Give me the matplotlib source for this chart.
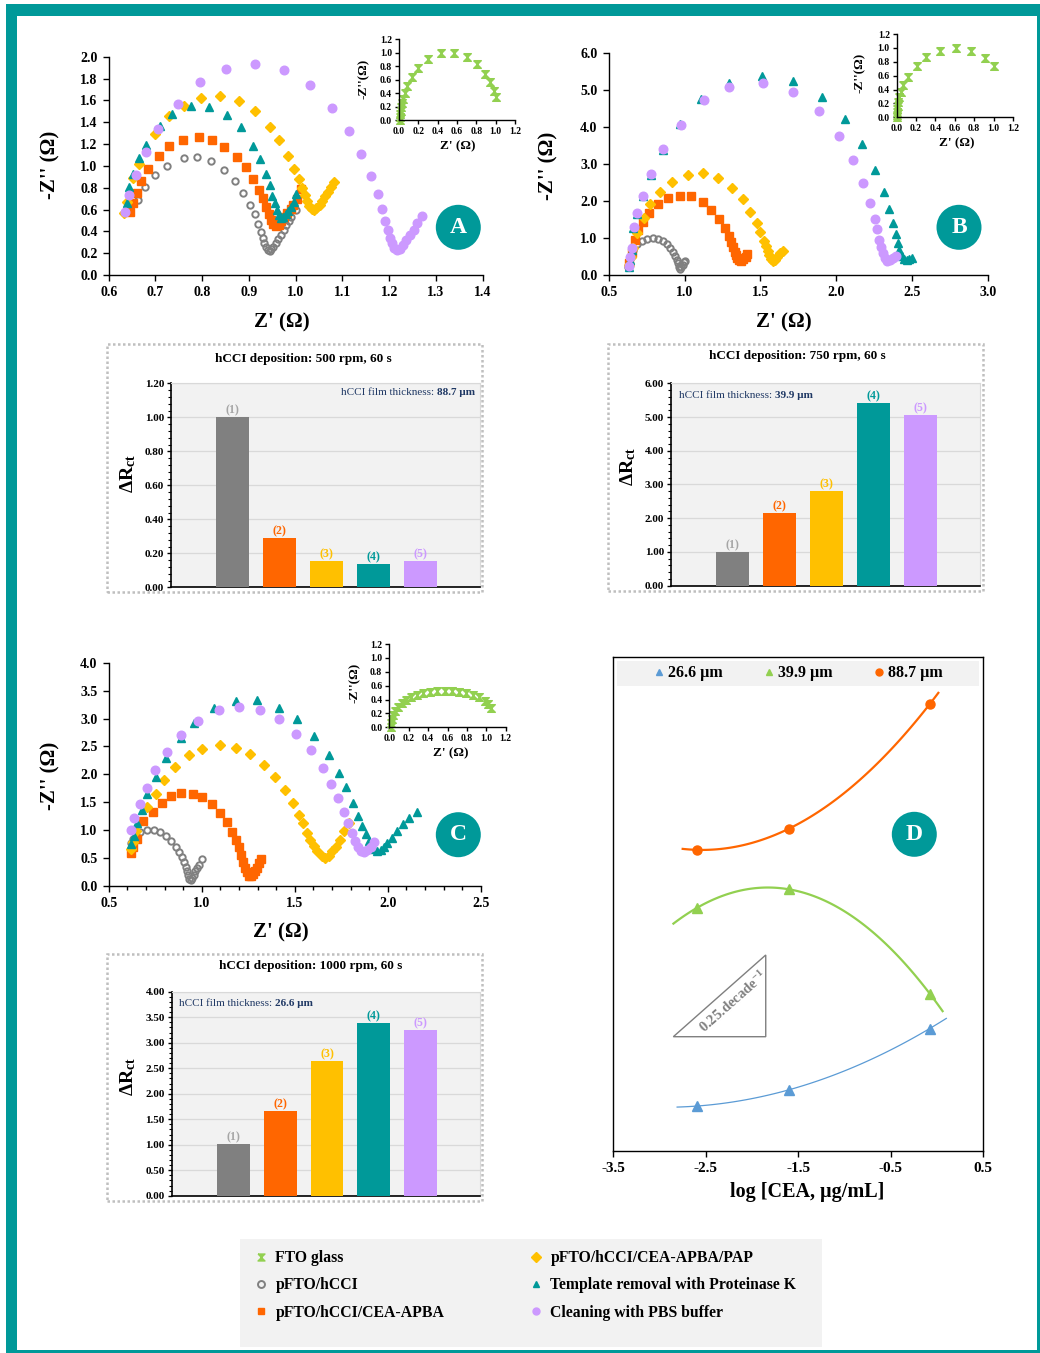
import numpy as np
import matplotlib
matplotlib.use("Agg")
import matplotlib.pyplot as plt
from matplotlib.patches import Rectangle, Ellipse, Polygon
from matplotlib.lines import Line2D
from matplotlib.ticker import MultipleLocator, FormatStrFormatter

plt.rcParams['font.family'] = ['Liberation Serif', 'DejaVu Serif']
plt.rcParams['font.weight'] = 'bold'
plt.rcParams['axes.labelweight'] = 'bold'
plt.rcParams['axes.unicode_minus'] = False
plt.rcParams['mathtext.fontset'] = 'custom'
plt.rcParams['mathtext.rm'] = 'Liberation Serif'
plt.rcParams['mathtext.bf'] = 'Liberation Serif:bold'
plt.rcParams['mathtext.it'] = 'Liberation Serif:italic'

W, H = 1040, 1353
TEAL = "#009999"
GRAY = "#808080"
ORANGE = "#FF6600"
GOLD = "#FFC000"
PURPLE = "#CC99FF"
GREEN = "#92D050"
BLUE = "#5B9BD5"
NAVY = "#1F3864"

# ---------------- Nyquist data, 500 rpm (A) ----------------
a_fto_x = [0.010, 0.010, 0.014, 0.017, 0.021, 0.028, 0.038, 0.062, 0.086, 0.131, 0.197,
           0.303, 0.431, 0.569, 0.700, 0.807, 0.890, 0.941, 0.979, 1.000]
a_fto_y = [0.000, 0.040, 0.084, 0.134, 0.188, 0.248, 0.307, 0.407, 0.511, 0.635, 0.768,
           0.907, 0.992, 1.001, 0.942, 0.828, 0.689, 0.565, 0.431, 0.337]
a_hcci_x = [0.646, 0.662, 0.678, 0.700, 0.724, 0.760, 0.788, 0.818, 0.847, 0.871, 0.888,
            0.903, 0.912, 0.919, 0.925, 0.929, 0.933, 0.937, 0.940, 0.944, 0.948, 0.952,
            0.957, 0.962, 0.968, 0.974, 0.979, 0.985, 0.991, 1.000]
a_hcci_y = [0.580, 0.687, 0.809, 0.919, 1.002, 1.069, 1.078, 1.041, 0.962, 0.858, 0.754,
            0.638, 0.559, 0.467, 0.394, 0.339, 0.290, 0.253, 0.229, 0.220, 0.235, 0.260,
            0.290, 0.327, 0.369, 0.412, 0.455, 0.498, 0.534, 0.595]
a_apba_x = [0.646, 0.651, 0.660, 0.669, 0.683, 0.707, 0.730, 0.758, 0.793, 0.820, 0.847,
            0.874, 0.893, 0.909, 0.922, 0.929, 0.936, 0.942, 0.947, 0.952, 0.958, 0.964,
            0.969, 0.976, 0.982, 0.989, 0.995, 1.002, 1.011]
a_apba_y = [0.577, 0.660, 0.754, 0.861, 0.974, 1.093, 1.182, 1.237, 1.261, 1.237, 1.176,
            1.081, 0.989, 0.882, 0.776, 0.702, 0.626, 0.556, 0.501, 0.464, 0.449, 0.461,
            0.492, 0.528, 0.565, 0.602, 0.644, 0.693, 0.791]
a_pap_x = [0.633, 0.640, 0.653, 0.664, 0.698, 0.729, 0.760, 0.797, 0.839, 0.879, 0.913,
           0.944, 0.964, 0.983, 0.996, 1.006, 1.013, 1.019, 1.024, 1.029, 1.034, 1.039,
           1.044, 1.051, 1.056, 1.063, 1.069, 1.076, 1.081]
a_pap_y = [0.571, 0.672, 0.885, 1.014, 1.289, 1.456, 1.548, 1.624, 1.643, 1.591, 1.499,
           1.353, 1.237, 1.090, 0.971, 0.876, 0.794, 0.733, 0.678, 0.635, 0.605, 0.595,
           0.611, 0.641, 0.678, 0.721, 0.763, 0.809, 0.849]
a_prot_x = [0.635, 0.639, 0.644, 0.651, 0.664, 0.680, 0.709, 0.736, 0.775, 0.815, 0.853,
            0.883, 0.909, 0.923, 0.936, 0.944, 0.950, 0.955, 0.959, 0.964, 0.968, 0.973,
            0.979, 0.984, 0.990, 0.996, 1.001]
a_prot_y = [0.595, 0.656, 0.809, 0.925, 1.069, 1.191, 1.365, 1.475, 1.545, 1.539, 1.469,
            1.353, 1.185, 1.063, 0.922, 0.821, 0.727, 0.656, 0.595, 0.550, 0.525, 0.528,
            0.556, 0.589, 0.626, 0.672, 0.739]
a_pbs_x = [0.635, 0.643, 0.658, 0.680, 0.706, 0.748, 0.796, 0.850, 0.912, 0.974, 1.030,
           1.078, 1.114, 1.140, 1.161, 1.175, 1.185, 1.192, 1.198, 1.202, 1.206, 1.211,
           1.217, 1.223, 1.230, 1.237, 1.245, 1.253, 1.260, 1.270]
a_pbs_y = [0.580, 0.733, 0.913, 1.124, 1.340, 1.569, 1.771, 1.887, 1.933, 1.875, 1.740,
           1.533, 1.319, 1.108, 0.904, 0.739, 0.602, 0.495, 0.409, 0.339, 0.290, 0.247,
           0.229, 0.241, 0.278, 0.321, 0.366, 0.412, 0.473, 0.540]

# ---------------- Nyquist data, 750 rpm (B) ----------------
b_fto_x = [0.000, 0.000, 0.003, 0.007, 0.010, 0.017, 0.027, 0.045, 0.069, 0.120, 0.206,
           0.305, 0.449, 0.607, 0.765, 0.912, 1.001]
b_fto_y = [0.000, 0.034, 0.072, 0.115, 0.163, 0.226, 0.288, 0.365, 0.466, 0.586, 0.739,
           0.864, 0.960, 0.994, 0.960, 0.850, 0.739]
b_hcci_x = [0.630, 0.636, 0.647, 0.663, 0.689, 0.720, 0.755, 0.790, 0.825, 0.856, 0.883,
            0.905, 0.922, 0.938, 0.949, 0.957, 0.964, 0.971, 0.979, 0.988, 0.997, 1.006]
b_hcci_y = [0.207, 0.333, 0.495, 0.675, 0.828, 0.927, 0.980, 0.998, 0.980, 0.927, 0.837,
            0.729, 0.621, 0.513, 0.405, 0.315, 0.225, 0.171, 0.207, 0.270, 0.342, 0.387]
b_apba_x = [0.636, 0.652, 0.674, 0.696, 0.729, 0.768, 0.825, 0.891, 0.973, 1.043, 1.122,
            1.177, 1.230, 1.267, 1.292, 1.307, 1.320, 1.331, 1.340, 1.349, 1.360, 1.373,
            1.388, 1.404, 1.415]
b_apba_y = [0.315, 0.585, 0.945, 1.214, 1.439, 1.673, 1.907, 2.069, 2.141, 2.123, 1.970,
            1.763, 1.511, 1.277, 1.061, 0.882, 0.747, 0.630, 0.531, 0.459, 0.405, 0.387,
            0.423, 0.495, 0.567]
b_pap_x = [0.632, 0.647, 0.663, 0.685, 0.731, 0.773, 0.839, 0.920, 1.023, 1.122, 1.223,
           1.314, 1.386, 1.434, 1.476, 1.500, 1.522, 1.536, 1.549, 1.560, 1.571, 1.584,
           1.597, 1.613, 1.630, 1.648]
b_pap_y = [0.270, 0.495, 0.720, 1.124, 1.529, 1.916, 2.231, 2.510, 2.690, 2.744, 2.609,
           2.348, 2.042, 1.709, 1.394, 1.151, 0.918, 0.783, 0.657, 0.540, 0.441, 0.387,
           0.405, 0.495, 0.585, 0.657]
b_prot_x = [0.632, 0.641, 0.654, 0.663, 0.689, 0.724, 0.779, 0.856, 0.973, 1.107, 1.294,
            1.509, 1.718, 1.905, 2.057, 2.171, 2.257, 2.314, 2.349, 2.378, 2.395, 2.409,
            2.417, 2.433, 2.448, 2.466, 2.483, 2.501]
b_prot_y = [0.207, 0.405, 0.675, 1.259, 1.646, 2.141, 2.708, 3.373, 4.075, 4.740, 5.172,
            5.370, 5.244, 4.812, 4.201, 3.526, 2.834, 2.240, 1.790, 1.412, 1.106, 0.873,
            0.675, 0.522, 0.432, 0.405, 0.423, 0.468]
b_pbs_x = [0.632, 0.641, 0.652, 0.669, 0.689, 0.724, 0.779, 0.856, 0.975, 1.131, 1.294,
           1.518, 1.716, 1.885, 2.022, 2.112, 2.178, 2.226, 2.255, 2.268, 2.283, 2.294,
           2.307, 2.321, 2.338, 2.358, 2.378, 2.395]
b_pbs_y = [0.243, 0.495, 0.720, 1.304, 1.664, 2.141, 2.726, 3.391, 4.048, 4.723, 5.064,
           5.181, 4.929, 4.426, 3.751, 3.112, 2.483, 1.934, 1.502, 1.232, 0.945, 0.747,
           0.585, 0.450, 0.387, 0.405, 0.468, 0.522]

# ---------------- Nyquist data, 1000 rpm (C) ----------------
c_fto_x = [0.014, 0.017, 0.024, 0.034, 0.055, 0.086, 0.127, 0.172, 0.227, 0.285, 0.351,
           0.420, 0.495, 0.571, 0.646, 0.722, 0.794, 0.863, 0.928, 0.983, 1.021, 1.045]
c_fto_y = [0.000, 0.058, 0.115, 0.173, 0.240, 0.298, 0.346, 0.394, 0.432, 0.466, 0.490,
           0.509, 0.518, 0.523, 0.523, 0.514, 0.499, 0.470, 0.432, 0.384, 0.331, 0.283]
c_hcci_x = [0.618, 0.629, 0.645, 0.668, 0.704, 0.746, 0.778, 0.808, 0.837, 0.860, 0.878,
            0.892, 0.903, 0.914, 0.921, 0.928, 0.934, 0.941, 0.948, 0.957, 0.966, 0.975,
            0.986, 1.000]
c_hcci_y = [0.764, 0.842, 0.913, 0.973, 1.003, 1.003, 0.961, 0.896, 0.812, 0.704, 0.603,
            0.513, 0.430, 0.346, 0.263, 0.191, 0.131, 0.107, 0.143, 0.203, 0.263, 0.322,
            0.382, 0.490]
c_apba_x = [0.622, 0.633, 0.651, 0.686, 0.737, 0.785, 0.835, 0.889, 0.953, 1.002, 1.056,
            1.100, 1.134, 1.163, 1.183, 1.201, 1.213, 1.224, 1.235, 1.244, 1.253, 1.263,
            1.274, 1.287, 1.299, 1.310, 1.317]
c_apba_y = [0.585, 0.704, 0.836, 1.170, 1.331, 1.493, 1.612, 1.660, 1.648, 1.594, 1.463,
            1.307, 1.140, 0.967, 0.824, 0.693, 0.555, 0.436, 0.328, 0.245, 0.185, 0.173,
            0.209, 0.269, 0.328, 0.418, 0.478]
c_pap_x = [0.618, 0.633, 0.647, 0.708, 0.753, 0.796, 0.855, 0.934, 1.002, 1.097, 1.185,
           1.262, 1.337, 1.396, 1.450, 1.491, 1.523, 1.545, 1.566, 1.584, 1.602, 1.622,
           1.645, 1.665, 1.683, 1.701, 1.720, 1.742, 1.765, 1.790]
c_pap_y = [0.657, 0.794, 0.991, 1.421, 1.654, 1.904, 2.131, 2.346, 2.460, 2.519, 2.478,
           2.364, 2.167, 1.958, 1.719, 1.481, 1.278, 1.122, 0.955, 0.824, 0.716, 0.621,
           0.537, 0.501, 0.537, 0.621, 0.704, 0.824, 0.991, 1.128]
c_prot_x = [0.618, 0.636, 0.654, 0.677, 0.708, 0.754, 0.808, 0.891, 0.961, 1.066, 1.185,
            1.299, 1.414, 1.513, 1.606, 1.683, 1.740, 1.776, 1.815, 1.841, 1.862, 1.882,
            1.898, 1.914, 1.928, 1.944, 1.962, 1.980, 1.998, 2.022, 2.048, 2.081, 2.116,
            2.158]
c_prot_y = [0.746, 0.896, 1.122, 1.355, 1.648, 1.952, 2.293, 2.657, 2.925, 3.188, 3.319,
            3.331, 3.194, 2.997, 2.693, 2.346, 2.030, 1.779, 1.481, 1.260, 1.069, 0.925,
            0.800, 0.704, 0.657, 0.633, 0.645, 0.693, 0.764, 0.860, 0.985, 1.110, 1.224,
            1.331]
c_pbs_x = [0.622, 0.638, 0.667, 0.704, 0.749, 0.812, 0.891, 0.982, 1.091, 1.201, 1.312,
           1.416, 1.505, 1.586, 1.651, 1.695, 1.731, 1.763, 1.787, 1.808, 1.826, 1.842,
           1.858, 1.875, 1.891, 1.909, 1.928]
c_pbs_y = [1.003, 1.212, 1.469, 1.761, 2.072, 2.400, 2.710, 2.961, 3.152, 3.212, 3.152,
           2.985, 2.728, 2.430, 2.107, 1.833, 1.576, 1.325, 1.134, 0.955, 0.806, 0.693,
           0.621, 0.609, 0.645, 0.704, 0.782]

# ---------------- ΔRct bar data ----------------
step_labels = ["(1)", "(2)", "(3)", "(4)", "(5)"]
rct_500 = [1.00, 0.29, 0.155, 0.137, 0.155]
rct_750 = [1.00, 2.15, 2.81, 5.42, 5.06]
rct_1000 = [1.01, 1.67, 2.64, 3.39, 3.25]
bar_colors = [GRAY, ORANGE, GOLD, TEAL, PURPLE]
label_colors = ["#A6A6A6", ORANGE, GOLD, TEAL, PURPLE]

# ---------------- calibration data (D) ----------------
log_cea = [-2.6, -1.6, -0.08]
resp_266 = [0.091, 0.124, 0.248]
resp_399 = [0.492, 0.530, 0.319]
resp_887 = [0.610, 0.653, 0.905]
thickness_labels = ["26.6 µm", "39.9 µm", "88.7 µm"]
slope_triangle = [(-2.851, 0.2315), (-1.852, 0.2315), (-1.852, 0.397)]
log_ticks = [-3.5, -2.5, -1.5, -0.5, 0.5]

HOURGLASS = [(-1, 1), (1, 1), (-1, -1), (1, -1), (-1, 1)]
STYLE = {
    "fto": dict(marker=HOURGLASS, color=GREEN, ms=5.5),
    "hcci": dict(marker="o", mfc="none", mec=GRAY, mew=1.4, ms=4.6),
    "apba": dict(marker="s", color=ORANGE, ms=5.3),
    "pap": dict(marker="D", color=GOLD, ms=5.0),
    "prot": dict(marker="^", color=TEAL, ms=6.2),
    "pbs": dict(marker="o", color=PURPLE, ms=6.2),
}


def frac(l, t, r, b):
    return [l / W, 1 - b / H, (r - l) / W, (b - t) / H]


def fx(px):
    return px / W


def fy(py):
    return 1 - py / H


fig = plt.figure(figsize=(W / 100, H / 100), dpi=100)


def nyquist(rect, xlim, xstep, ylim, ystep, curves, xminor=None,
            size=10, inset=False):
    ax = fig.add_axes(rect)
    for x, y, key in curves:
        ax.plot(x, y, linestyle="none", clip_on=False, **STYLE[key])
    ax.set_xlim(xlim)
    ax.set_ylim(ylim)
    ax.xaxis.set_major_locator(MultipleLocator(xstep))
    ax.yaxis.set_major_locator(MultipleLocator(ystep))
    if xminor:
        ax.xaxis.set_minor_locator(MultipleLocator(xminor))
    ax.xaxis.set_major_formatter(FormatStrFormatter("%.1f"))
    ax.yaxis.set_major_formatter(FormatStrFormatter("%.1f"))
    for s in ["top", "right"]:
        ax.spines[s].set_visible(False)
    for s in ["left", "bottom"]:
        ax.spines[s].set_linewidth(1.0)
    ax.tick_params(direction="out", length=3 if inset else 4, width=1,
                   labelsize=size, pad=2 if inset else 4)
    ax.tick_params(which="minor", direction="out", length=3, width=1)
    ax.patch.set_alpha(0)
    return ax


def badge(cx, cy, letter):
    fig.patches.append(Ellipse((fx(cx), fy(cy)), 45 / W, 45 / H,
                               transform=fig.transFigure, fc=TEAL, ec="none"))
    fig.text(fx(cx), fy(cy), letter, color="white", fontsize=17,
             ha="center", va="center")


def ftext(px, py, s, **kw):
    return fig.text(fx(px), fy(py), s, ha="center", va="center", **kw)


def fill_px(l, t, r, b, color, **kw):
    fig.patches.append(Rectangle((fx(l), fy(b)), (r - l) / W, (b - t) / H,
                                 transform=fig.transFigure, fc=color, ec="none", **kw))


# ---- panel A ----
nyquist(frac(108.7, 56.7, 482.7, 275), (0.6, 1.4), 0.1, (0, 2.0), 0.2,
        [(a_hcci_x, a_hcci_y, "hcci"), (a_apba_x, a_apba_y, "apba"),
         (a_pap_x, a_pap_y, "pap"), (a_prot_x, a_prot_y, "prot"),
         (a_pbs_x, a_pbs_y, "pbs")])
nyquist(frac(399, 39.3, 515, 120), (0, 1.2), 0.2, (0, 1.2), 0.2,
        [(a_fto_x, a_fto_y, "fto")], size=7, inset=True)
ftext(50, 165, "-Z'' (Ω)", fontsize=15, rotation=90)
ftext(282, 322, "Z' (Ω)", fontsize=15)
ftext(364, 79, "-Z''(Ω)", fontsize=9.5, rotation=90)
ftext(458, 146, "Z' (Ω)", fontsize=9.5)
badge(458.3, 227.3, "A")

# ---- panel B ----
nyquist(frac(608.7, 52.7, 987.7, 275), (0.5, 3.0), 0.5, (0, 6.0), 1.0,
        [(b_hcci_x, b_hcci_y, "hcci"), (b_apba_x, b_apba_y, "apba"),
         (b_pap_x, b_pap_y, "pap"), (b_prot_x, b_prot_y, "prot"),
         (b_pbs_x, b_pbs_y, "pbs")])
nyquist(frac(896.7, 34, 1013, 117.3), (0, 1.2), 0.2, (0, 1.2), 0.2,
        [(b_fto_x, b_fto_y, "fto")], size=7, inset=True)
ftext(548, 166, "-Z'' (Ω)", fontsize=15, rotation=90)
ftext(784, 322, "Z' (Ω)", fontsize=15)
ftext(860, 73, "-Z''(Ω)", fontsize=9.5, rotation=90)
ftext(957, 143, "Z' (Ω)", fontsize=9.5)
badge(959, 227.3, "B")

# ---- panel C ----
nyquist(frac(108.7, 662.7, 480.7, 886), (0.5, 2.5), 0.5, (0, 4.0), 0.5,
        [(c_hcci_x, c_hcci_y, "hcci"), (c_apba_x, c_apba_y, "apba"),
         (c_pap_x, c_pap_y, "pap"), (c_prot_x, c_prot_y, "prot"),
         (c_pbs_x, c_pbs_y, "pbs")], xminor=0.1)
nyquist(frac(389.3, 644, 505.7, 727.3), (0, 1.2), 0.2, (0, 1.2), 0.2,
        [(c_fto_x, c_fto_y, "fto")], size=7, inset=True)
ftext(50, 776, "-Z'' (Ω)", fontsize=15, rotation=90)
ftext(281, 932, "Z' (Ω)", fontsize=15)
ftext(355, 683, "-Z''(Ω)", fontsize=9.5, rotation=90)
ftext(451, 753, "Z' (Ω)", fontsize=9.5)
badge(458.3, 834.7, "C")


# ---- ΔRct bar panels ----
def bar_panel(box_px, ax_px, values, ymax, ystep, yminor, title, title_xy,
              ylab_xy, thick, right_aligned):
    l, t, r, b = box_px
    fig.patches.append(Rectangle((fx(l), fy(b)), (r - l) / W, (b - t) / H,
                                 transform=fig.transFigure, fill=False,
                                 ec="#BFBFBF", lw=1.8, ls=(0, (1, 1))))
    ax = fig.add_axes(frac(*ax_px))
    ax.set_facecolor("#F2F2F2")
    pos = np.arange(1, len(values) + 1)
    bars = ax.bar(pos, values, width=0.7, color=bar_colors, zorder=3)
    for rect, lab, col in zip(bars, step_labels, label_colors):
        ax.annotate(lab, (rect.get_x() + rect.get_width() / 2, rect.get_height()),
                    xytext=(0, 0.5), textcoords="offset points", ha="center",
                    va="bottom", color=col, fontsize=8.5, zorder=4)
    ax.set_xlim(-0.32, 6.27)
    ax.set_ylim(0, ymax)
    ax.yaxis.set_major_locator(MultipleLocator(ystep))
    ax.yaxis.set_minor_locator(MultipleLocator(yminor))
    ax.yaxis.set_major_formatter(FormatStrFormatter("%.2f"))
    ax.grid(axis="y", color="#D9D9D9", lw=0.9, zorder=0)
    ax.set_axisbelow(True)
    ax.set_xticks([])
    ax.tick_params(axis="y", direction="out", length=3, width=1, labelsize=8, pad=2)
    ax.tick_params(axis="y", which="minor", direction="out", length=2, width=0.8)
    for s in ["top", "right"]:
        ax.spines[s].set_color("#D9D9D9")
    for s in ["left", "bottom"]:
        ax.spines[s].set_color("black")
        ax.spines[s].set_linewidth(1.2)
    ftext(title_xy[0], title_xy[1], title, fontsize=9.5)
    ftext(ylab_xy[0], ylab_xy[1], r"$\mathbf{ΔR_{ct}}$", fontsize=14, rotation=90)
    if right_aligned:
        t2 = ax.text(0.985, 0.955, thick, transform=ax.transAxes, ha="right",
                     va="center", fontsize=8, color=NAVY, fontweight="bold")
        ax.annotate("hCCI film thickness: ", (0, 0.5), xycoords=t2, ha="right",
                    va="center", fontsize=8, color=NAVY, fontweight="normal")
    else:
        t1 = ax.text(0.025, 0.94, "hCCI film thickness: ", transform=ax.transAxes,
                     ha="left", va="center", fontsize=8, color=NAVY,
                     fontweight="normal")
        ax.annotate(thick, (1, 0.5), xycoords=t1, ha="left", va="center",
                    fontsize=8, color=NAVY, fontweight="bold")
    return ax


bar_panel((107, 344, 482, 592), (171, 383.3, 480, 587.3), rct_500, 1.2, 0.2, 0.04,
          "hCCI deposition: 500 rpm, 60 s", (303, 359), (128, 474),
          thickness_labels[2], True)
bar_panel((608, 344, 983, 591), (671, 383.3, 980, 585.7), rct_750, 6.0, 1.0, 0.2,
          "hCCI deposition: 750 rpm, 60 s", (797, 356), (628, 467),
          thickness_labels[1], False)
bar_panel((107, 954, 482, 1201), (171.7, 991.7, 480, 1195.7), rct_1000, 4.0, 0.5, 0.1,
          "hCCI deposition: 1000 rpm, 60 s", (311, 966), (128, 1077),
          thickness_labels[0], False)

# ---- panel D ----
axd = fig.add_axes(frac(613.3, 657.3, 983.3, 1151))
axd.set_xlim(-3.5, 0.5)
axd.set_ylim(0, 1)
fits = [
    (resp_266, BLUE, "^", 0.9, (-2.81, 0.10)),
    (resp_399, GREEN, "^", 1.6, (-2.85, 0.06)),
    (resp_887, ORANGE, "o", 1.6, (-2.75, 0.014)),
]
handles = []
for vals, col, mk, lw, (x0, x1) in fits:
    coef = np.polyfit(log_cea, vals, 2)
    xs = np.linspace(x0, x1, 120)
    axd.plot(xs, np.polyval(coef, xs), color=col, lw=lw)
    axd.plot(log_cea, vals, mk, color=col, ms=6.5, ls="none")
    handles.append(Line2D([], [], marker=mk, color=col, ls="none", ms=5))
axd.add_patch(Polygon(slope_triangle, closed=True, fill=False, ec="#7F7F7F", lw=1.0))
axd.text(-2.2, 0.302, r"0.25.decade$^{\mathbf{-1}}$", rotation=41.5, color="#808080",
         fontsize=10.5, ha="center", va="center")
axd.add_patch(Rectangle((0.009, 0.9425), 0.979, 0.0505, transform=axd.transAxes,
                        fc="#F2F2F2", ec="none"))
axd.legend(handles, thickness_labels, ncol=3, loc="center",
           bbox_to_anchor=(0.5, 0.968), frameon=False, fontsize=11.5,
           handlelength=0.6, handletextpad=0.25, columnspacing=2.6,
           borderaxespad=0, borderpad=0)
axd.set_yticks([])
axd.set_xticks(log_ticks)
axd.xaxis.set_major_formatter(FormatStrFormatter("%.1f"))
axd.tick_params(axis="x", direction="out", length=4, width=1, labelsize=11, pad=4)
for s in axd.spines.values():
    s.set_linewidth(1.0)
ftext(807, 1192, "log [CEA, µg/mL]", fontsize=14.5)
badge(914.3, 834.3, "D")

# ---- shared legend ----
fill_px(240, 1239, 822, 1347, "#F2F2F2")
leg_keys = ["fto", "hcci", "apba", "pap", "prot", "pbs"]
leg_labels = ["FTO glass", "pFTO/hCCI", "pFTO/hCCI/CEA-APBA",
              "pFTO/hCCI/CEA-APBA/PAP", "Template removal with Proteinase K",
              "Cleaning with PBS buffer"]
leg_handles = []
for k in leg_keys:
    st = dict(STYLE[k])
    st["ms"] = 5
    leg_handles.append(Line2D([], [], ls="none", **st))
for i, left in enumerate([255, 530]):
    fig.legend(leg_handles[3 * i:3 * i + 3], leg_labels[3 * i:3 * i + 3],
               loc="upper left", bbox_to_anchor=(fx(left), fy(1250)),
               frameon=False, fontsize=11.3, handlelength=0.8, handletextpad=0.5,
               labelspacing=0.72, borderpad=0, borderaxespad=0)

# ---- outer teal frame ----
fill_px(6, 4, 1040, 16, TEAL)
fill_px(6, 4, 17, 1353, TEAL)
fill_px(1037, 4, 1040, 1353, TEAL)
fill_px(6, 1350, 1040, 1353, TEAL)

fig.savefig("out.png", dpi=100)
